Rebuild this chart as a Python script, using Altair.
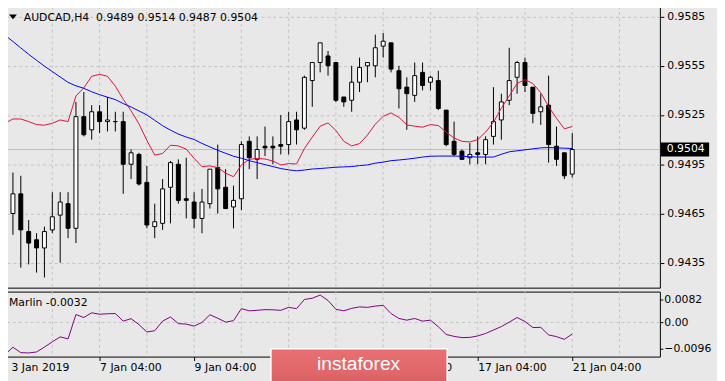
import altair as alt
import pandas as pd

# ---------------- data (AUDCAD H4) ----------------
open_ = [0.9443, 0.9465, 0.9477, 0.9454, 0.9449, 0.9444, 0.9455, 0.9464, 0.9471, 0.9456,
         0.9524, 0.9516, 0.9527, 0.9521, 0.9521, 0.9521, 0.9495, 0.9501, 0.9484, 0.9457,
         0.9459, 0.9481, 0.9495, 0.9474, 0.9472, 0.9462, 0.9471, 0.9493, 0.9481, 0.9469,
         0.9474, 0.9509, 0.9498, 0.9506, 0.9506, 0.9507, 0.9507, 0.9522, 0.9517, 0.9546,
         0.9557, 0.9561, 0.9557, 0.9536, 0.9534, 0.9545, 0.9555, 0.9555, 0.9567, 0.9569,
         0.9552, 0.9542, 0.9537, 0.9551, 0.9545, 0.9546, 0.9528, 0.9509, 0.9503, 0.9499,
         0.9502, 0.9501, 0.9512, 0.9522, 0.9534, 0.9548, 0.9557, 0.9542, 0.9527, 0.9531,
         0.9506, 0.9502, 0.9489]
high = [0.9469, 0.9490, 0.9488, 0.9461, 0.9453, 0.9457, 0.9478, 0.9478, 0.9478, 0.9533,
        0.9539, 0.9531, 0.9531, 0.9536, 0.9527, 0.9527, 0.9504, 0.9502, 0.9494, 0.9471,
        0.9486, 0.9497, 0.9498, 0.9499, 0.9478, 0.9480, 0.9492, 0.9507, 0.9492, 0.9482,
        0.9509, 0.9512, 0.9512, 0.9518, 0.9512, 0.9525, 0.9527, 0.9527, 0.9549, 0.9557,
        0.9569, 0.9564, 0.9557, 0.9536, 0.9555, 0.9560, 0.9557, 0.9574, 0.9575, 0.9569,
        0.9555, 0.9548, 0.9557, 0.9557, 0.9549, 0.9552, 0.9528, 0.9521, 0.9504, 0.9508,
        0.9512, 0.9512, 0.9542, 0.9538, 0.9566, 0.9558, 0.9560, 0.9542, 0.9538, 0.9549,
        0.9518, 0.9502, 0.9514]
low = [0.9438, 0.9452, 0.9432, 0.9434, 0.9429, 0.9426, 0.9453, 0.9435, 0.9450, 0.9447,
       0.9512, 0.9510, 0.9514, 0.9515, 0.9515, 0.9477, 0.9486, 0.9482, 0.9456, 0.9450,
       0.9455, 0.9459, 0.9471, 0.9462, 0.9456, 0.9453, 0.9468, 0.9465, 0.9468, 0.9456,
       0.9467, 0.9492, 0.9486, 0.9500, 0.9495, 0.9501, 0.9501, 0.9507, 0.9516, 0.9530,
       0.9551, 0.9549, 0.9533, 0.9530, 0.9527, 0.9539, 0.9545, 0.9548, 0.9560, 0.9551,
       0.9529, 0.9516, 0.9533, 0.9540, 0.9540, 0.9528, 0.9506, 0.9500, 0.9498, 0.9495,
       0.9495, 0.9495, 0.9507, 0.9510, 0.9531, 0.9538, 0.9539, 0.9520, 0.9519, 0.9496,
       0.9494, 0.9486, 0.9487]
close = [0.9465, 0.9477, 0.9455, 0.9447, 0.9444, 0.9454, 0.9463, 0.9472, 0.9456, 0.9524,
         0.9513, 0.9527, 0.9521, 0.9522, 0.9521, 0.9495, 0.9502, 0.9483, 0.9458, 0.9460,
         0.9480, 0.9496, 0.9473, 0.9473, 0.9462, 0.9472, 0.9492, 0.9480, 0.9468, 0.9473,
         0.9507, 0.9499, 0.9504, 0.9505, 0.9505, 0.9506, 0.9521, 0.9516, 0.9548, 0.9557,
         0.9569, 0.9555, 0.9534, 0.9533, 0.9545, 0.9554, 0.9557, 0.9566, 0.9570, 0.9553,
         0.9541, 0.9538, 0.9549, 0.9543, 0.9548, 0.9529, 0.9507, 0.9501, 0.9498, 0.9501,
         0.9501, 0.9510, 0.9521, 0.9533, 0.9546, 0.9557, 0.9543, 0.9526, 0.9530, 0.9507,
         0.9498, 0.9488, 0.9504]
red_ma = [0.95200, 0.95226, 0.95226, 0.95210, 0.95192, 0.95188, 0.95200, 0.95220, 0.95210, 0.95366,
          0.95416, 0.95486, 0.95498, 0.95486, 0.95426, 0.95346, 0.95276, 0.95196, 0.95096, 0.95006,
          0.95016, 0.95066, 0.95062, 0.95042, 0.94986, 0.94936, 0.94940, 0.94930, 0.94896, 0.94874,
          0.94946, 0.94980, 0.94986, 0.94982, 0.94970, 0.94946, 0.94954, 0.94952, 0.95046, 0.95116,
          0.95182, 0.95202, 0.95156, 0.95090, 0.95062, 0.95076, 0.95128, 0.95194, 0.95242, 0.95263,
          0.95236, 0.95190, 0.95182, 0.95176, 0.95192, 0.95186, 0.95146, 0.95110, 0.95090, 0.95086,
          0.95100, 0.95146, 0.95206, 0.95292, 0.95366, 0.95442, 0.95466, 0.95442, 0.95386, 0.95302,
          0.95230, 0.95166, 0.95180]
blue_ma = [0.95736, 0.95698, 0.95659, 0.95620, 0.95584, 0.95548, 0.95515, 0.95482, 0.95449, 0.95428,
           0.95413, 0.95392, 0.95374, 0.95359, 0.95344, 0.95320, 0.95299, 0.95275, 0.95251, 0.95218,
           0.95185, 0.95158, 0.95134, 0.95116, 0.95101, 0.95077, 0.95056, 0.95035, 0.95017, 0.94999,
           0.94987, 0.94972, 0.94960, 0.94948, 0.94936, 0.94924, 0.94916, 0.94910, 0.94915, 0.94921,
           0.94924, 0.94928, 0.94932, 0.94934, 0.94936, 0.94942, 0.94946, 0.94957, 0.94963, 0.94972,
           0.94976, 0.94981, 0.94987, 0.94994, 0.94999, 0.95000, 0.95000, 0.95000, 0.94999, 0.94996,
           0.94994, 0.94994, 0.94994, 0.95011, 0.95026, 0.95032, 0.95038, 0.95044, 0.95050, 0.95052,
           0.95050, 0.95048, 0.95046]
marlin = [-0.01163, -0.00896, -0.01092, -0.01102, -0.01067, -0.00889, -0.00700, -0.00522, -0.00593, 0.00286,
          0.00179, 0.00350, 0.00297, 0.00315, 0.00322, 0.00048, 0.00137, -0.00077, -0.00344, -0.00298,
          0.00048, 0.00201, -0.00042, -0.00059, -0.00131, 0.00001, 0.00279, 0.00154, 0.00012, 0.00065,
          0.00500, 0.00421, 0.00439, 0.00464, 0.00457, 0.00439, 0.00546, 0.00500, 0.00831, 0.00877,
          0.00991, 0.00795, 0.00475, 0.00421, 0.00510, 0.00564, 0.00546, 0.00592, 0.00617, 0.00322,
          0.00144, 0.00083, 0.00144, 0.00048, 0.00083, -0.00155, -0.00433, -0.00504, -0.00547, -0.00540,
          -0.00487, -0.00398, -0.00273, -0.00148, 0.00012, 0.00179, 0.00037, -0.00184, -0.00177, -0.00451,
          -0.00511, -0.00611, -0.00415]

tick_idx = [0, 12, 24, 36, 48, 60, 72]
tick_labels = ["3 Jan 2019", "7 Jan 04:00", "9 Jan 04:00", "11 Jan 04:00",
               "15 Jan 04:00", "17 Jan 04:00", "21 Jan 04:00"]
grid_idx = [0, 6, 12, 18, 24, 30, 36, 42, 48, 54, 60, 66, 72, 78]
price_ticks = [0.9435, 0.9465, 0.9495, 0.9525, 0.9555, 0.9585]
marlin_ticks = [-0.0096, 0.0, 0.0082]
last_price = [0.9504]
header = ["AUDCAD,H4\u00a0\u00a00.9489 0.9514 0.9487 0.9504"]
marlin_label = ["Marlin -0.0032"]
watermark = ["instaforex"]

# ---------------- styling ----------------
FONT = "DejaVu Sans"
BG = "#e8e8e8"
GRID = "#c4c4c4"
W = 666
H_MAIN = 286
H_LOW = 66

n = len(close)
df = pd.DataFrame({"i": list(range(n)), "open": open_, "high": high, "low": low,
                   "close": close, "red": red_ma, "blue": blue_ma, "marlin": marlin})
df["top"] = df[["open", "close"]].max(axis=1)
df["bot"] = df[["open", "close"]].min(axis=1)
df["bull"] = df["close"] >= df["open"]
df["x0"] = df["i"] - 0.25
df["x1"] = df["i"] + 0.25

gdf = pd.DataFrame({"g": grid_idx})
pdf = pd.DataFrame({"p": last_price, "t": [f"{v:.4f}" for v in last_price]})

xs = alt.Scale(domain=[-0.125, 83.125], nice=False, zero=False)
ys = alt.Scale(domain=[0.941982, 0.959142], nice=False, zero=False)
ls = alt.Scale(domain=[-0.01234, 0.01116], nice=False, zero=False)

yaxis = alt.Axis(orient="right", values=price_ticks, format=".4f", grid=True,
                 gridDash=[3, 3], gridColor=GRID, gridWidth=1, tickSize=4,
                 tickColor="black", labelPadding=3, domain=False, title=None,
                 zindex=0, labelFont=FONT, labelFontSize=11, labelColor="black")

base = alt.Chart(df)

vgrid = alt.Chart(gdf).mark_rule(color=GRID, strokeDash=[3, 3], strokeWidth=1).encode(
    x=alt.X("g:Q", scale=xs, axis=None))
pline = alt.Chart(pdf).mark_rule(color="#bdbdbd", strokeWidth=1).encode(
    y=alt.Y("p:Q", scale=ys, axis=yaxis))
wicks = base.mark_rule(color="black", strokeWidth=1).encode(
    x=alt.X("i:Q", scale=xs, axis=None),
    y=alt.Y("low:Q", scale=ys, axis=yaxis), y2="high:Q")
bodies = base.mark_rect(stroke="black", strokeWidth=1).encode(
    x=alt.X("x0:Q", scale=xs, axis=None), x2="x1:Q",
    y=alt.Y("bot:Q", scale=ys, axis=yaxis), y2="top:Q",
    fill=alt.condition("datum.bull", alt.value("white"), alt.value("black")))
red = base.mark_line(color="#e0103c", strokeWidth=1).encode(
    x=alt.X("i:Q", scale=xs, axis=None), y=alt.Y("red:Q", scale=ys, axis=yaxis))
blue = base.mark_line(color="#0000ff", strokeWidth=1).encode(
    x=alt.X("i:Q", scale=xs, axis=None), y=alt.Y("blue:Q", scale=ys, axis=yaxis))
tri = alt.Chart(pd.DataFrame({"t": [""]})).mark_point(
    shape="M-1,-0.6L1,-0.6L0,0.6Z", size=64, filled=True, color="black", opacity=1).encode(
    x=alt.value(9), y=alt.value(11))
title = alt.Chart(pd.DataFrame({"t": header})).mark_text(
    align="left", baseline="alphabetic", font=FONT, fontSize=11, color="black").encode(
    x=alt.value(20), y=alt.value(14.7), text="t:N")
pbox = alt.Chart(pdf).mark_rule(color="black", strokeWidth=14).encode(
    y=alt.Y("p:Q", scale=ys, axis=yaxis), x=alt.value(667), x2=alt.value(716))
ptext = alt.Chart(pdf).mark_text(align="left", baseline="middle", font=FONT,
                                 fontSize=11, color="white").encode(
    y=alt.Y("p:Q", scale=ys, axis=yaxis), x=alt.value(673), text="t:N")

main = alt.layer(vgrid, pline, wicks, bodies, red, blue, tri, title, pbox, ptext).properties(
    width=W, height=H_MAIN)

# ---------------- lower panel ----------------
label_arr = "[" + ",".join("'" + s + "'" for s in tick_labels) + "]"
xaxis_low = alt.Axis(orient="bottom", values=tick_idx,
                     labelExpr=label_arr + "[round(datum.value / 12)]",
                     labelAlign="left", labelBaseline="top", labelPadding=1,
                     labelOffset={"condition": {"test": "datum.value == 0", "value": 6},
                                  "value": 0},
                     tickSize=4, tickColor="black", domain=False, grid=False,
                     labelFlush=False, labelOverlap=False, labelBound=False,
                     title=None, zindex=0, labelFont=FONT, labelFontSize=11,
                     labelColor="black")
laxis = alt.Axis(orient="right", values=marlin_ticks,
                 labelExpr="datum.value == 0 ? '0.00' : format(datum.value, '.4f')",
                 grid=False, tickSize=3, tickColor="black", labelPadding=1,
                 domain=False, title=None, zindex=0, labelFont=FONT,
                 labelFontSize=11, labelColor="black")

vgrid2 = alt.Chart(gdf).mark_rule(color=GRID, strokeDash=[3, 3], strokeWidth=1).encode(
    x=alt.X("g:Q", scale=xs, axis=xaxis_low))
zline = alt.Chart(pd.DataFrame({"z": [0.0]})).mark_rule(
    color=GRID, strokeDash=[3, 3], strokeWidth=1).encode(
    y=alt.Y("z:Q", scale=ls, axis=laxis))
mline = base.mark_line(color="#800080", strokeWidth=1).encode(
    x=alt.X("i:Q", scale=xs, axis=xaxis_low), y=alt.Y("marlin:Q", scale=ls, axis=laxis))
mtext = alt.Chart(pd.DataFrame({"t": marlin_label})).mark_text(
    align="left", baseline="alphabetic", font=FONT, fontSize=11, color="black").encode(
    x=alt.value(5), y=alt.value(14.7), text="t:N")
wm_fill = alt.Gradient(gradient="linear", x1=0, x2=0, y1=0, y2=1,
                       stops=[alt.GradientStop(color="#e87072", offset=0),
                              alt.GradientStop(color="#e06669", offset=0.6),
                              alt.GradientStop(color="#c95a5d", offset=1)])
wm_box = alt.Chart(pd.DataFrame({"t": watermark})).mark_rect(
    fill=wm_fill, stroke="white", strokeWidth=1.5).encode(
    x=alt.value(271), x2=alt.value(450), y=alt.value(58), y2=alt.value(100))
wm_text = alt.Chart(pd.DataFrame({"t": watermark})).mark_text(
    align="center", baseline="alphabetic", font="Liberation Sans", fontSize=19.5,
    color="white").encode(x=alt.value(360), y=alt.value(79.5), text="t:N")

lower = alt.layer(vgrid2, zline, mline, mtext, wm_box, wm_text).properties(
    width=W, height=H_LOW)

chart = alt.vconcat(main, lower, spacing=2).properties(
    padding={"left": -6, "top": -6, "right": 0, "bottom": 0},
    background=BG,
).configure_view(stroke="black", strokeWidth=1).configure_axis(
    labelFont=FONT, labelFontSize=11, labelColor="black")

chart.save("out.html", embed_options={"renderer": "svg", "actions": False})
